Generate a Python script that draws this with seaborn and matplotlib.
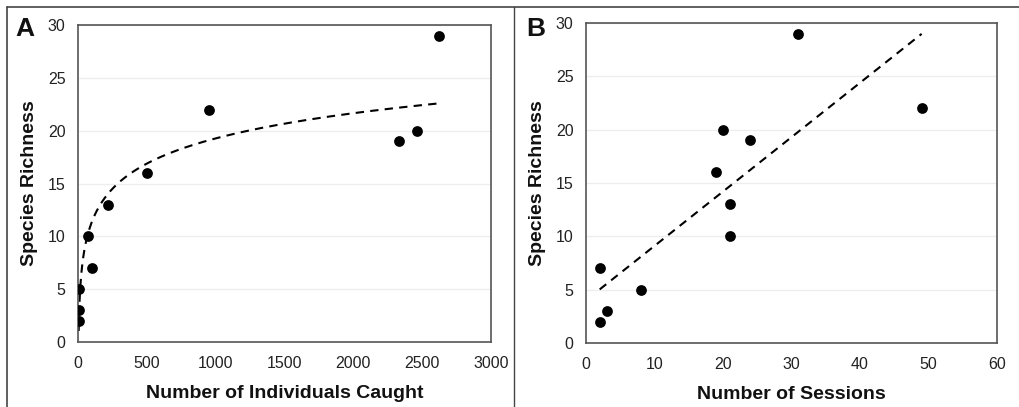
import numpy as np
import pandas as pd
import matplotlib
matplotlib.use("Agg")
import matplotlib.pyplot as plt
import seaborn as sns
from matplotlib.lines import Line2D

# Data
individuals = [5, 10, 8, 75, 100, 220, 500, 950, 2330, 2460, 2620]
richness_a = [2, 3, 5, 10, 7, 13, 16, 22, 19, 20, 29]
sessions = [2, 2, 3, 8, 19, 20, 21, 21, 24, 31, 49]
richness_b = [2, 7, 3, 5, 16, 20, 13, 10, 19, 29, 22]

sns.set_theme(style="white")
plt.rcParams['font.family'] = ['Liberation Sans', 'DejaVu Sans']

W, H = 1019, 407
fig = plt.figure(figsize=(W / 100, H / 100), dpi=100)

def ax_at(l, t, r, b):
    return fig.add_axes([l / W, 1 - b / H, (r - l) / W, (b - t) / H])

axA = ax_at(78, 25, 491, 342)
axB = ax_at(586, 23, 997, 343)

dfA = pd.DataFrame({"x": individuals, "y": richness_a})
dfB = pd.DataFrame({"x": sessions, "y": richness_b})

for ax, df, xmax, xstep, xlabel in [
    (axA, dfA, 3000, 500, "Number of Individuals Caught"),
    (axB, dfB, 60, 10, "Number of Sessions"),
]:
    for yv in range(5, 31, 5):
        ax.axhline(yv, color="#ededed", lw=0.9, zorder=0)
    sns.scatterplot(data=df, x="x", y="y", ax=ax, color="black", s=60,
                    edgecolor="black", linewidth=0, zorder=3)
    ax.set_xlim(0, xmax)
    ax.set_ylim(0, 30)
    ax.set_xticks(np.arange(0, xmax + 1, xstep))
    ax.set_yticks(np.arange(0, 31, 5))
    ax.tick_params(axis="both", labelsize=11.5, colors="#222222", length=0)
    ax.tick_params(axis="x", pad=10)
    ax.tick_params(axis="y", pad=9)
    ax.set_xlabel(xlabel, fontsize=14, fontweight="bold", labelpad=10, color="#111111")
    ax.set_ylabel("Species Richness", fontsize=14, fontweight="bold", labelpad=7, color="#111111")
    for sp in ax.spines.values():
        sp.set_color("#555555")
        sp.set_linewidth(1.2)
    ax.grid(False)

# Fits
xa = np.array(individuals, dtype=float)
ya = np.array(richness_a, dtype=float)
ca = np.polyfit(np.log(xa), ya, 1)
xs = np.linspace(xa.min(), xa.max(), 400)
axA.plot(xs, ca[0] * np.log(xs) + ca[1], ls=(0, (4, 3)), color="black", lw=1.5, zorder=2)

xb = np.array(sessions, dtype=float)
yb = np.array(richness_b, dtype=float)
cb = np.polyfit(xb, yb, 1)
xs2 = np.linspace(xb.min(), xb.max(), 2)
axB.plot(xs2, cb[0] * xs2 + cb[1], ls=(0, (4, 3)), color="black", lw=1.5, zorder=2)

# Panel letters
fig.text(15 / W, 1 - 36 / H, "A", fontsize=19, fontweight="bold", va="baseline", color="#111111")
fig.text(526 / W, 1 - 36 / H, "B", fontsize=19, fontweight="bold", va="baseline", color="#111111")

# Panel borders
fig.add_artist(Line2D([7 / W, 1], [1 - 7 / H, 1 - 7 / H], transform=fig.transFigure, color="#444444", lw=1.2))
fig.add_artist(Line2D([7 / W, 7 / W], [0, 1 - 7 / H], transform=fig.transFigure, color="#444444", lw=1.2))
fig.add_artist(Line2D([514 / W, 514 / W], [0, 1 - 7 / H], transform=fig.transFigure, color="#444444", lw=1.0))

fig.savefig("out.png", dpi=100, facecolor="white")
